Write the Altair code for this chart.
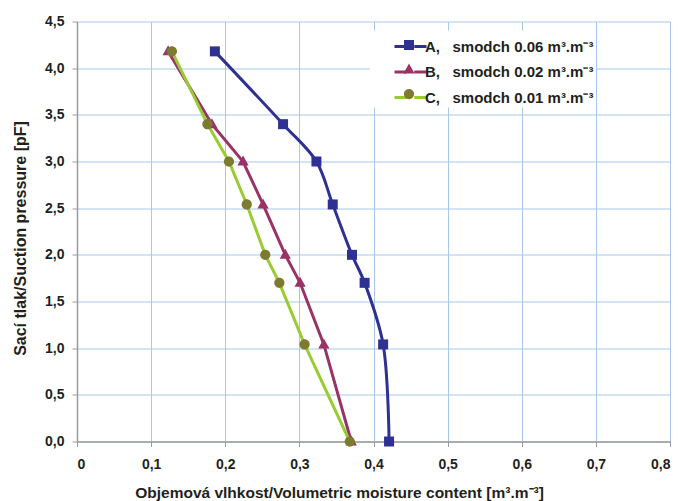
import altair as alt
import pandas as pd

# ---- data ----
suction_pf = [4.18, 3.40, 3.00, 2.54, 2.00, 1.70, 1.04, 0.00]
moisture_a = [0.186, 0.278, 0.323, 0.345, 0.371, 0.388, 0.413, 0.421]
moisture_b = [0.123, 0.182, 0.224, 0.251, 0.281, 0.301, 0.333, 0.370]
moisture_c = [0.128, 0.176, 0.205, 0.229, 0.254, 0.273, 0.307, 0.368]
series_keys = ["A", "B", "C"]
series_labels = [
    "A,\u00a0\u00a0\u00a0smodch 0.06 m\u00b3.m\u207b\u00b3",
    "B,\u00a0\u00a0\u00a0smodch 0.02 m\u00b3.m\u207b\u00b3",
    "C,\u00a0\u00a0\u00a0smodch 0.01 m\u00b3.m\u207b\u00b3",
]
line_colors = ["#2E3192", "#993366", "#99CC33"]
marker_colors = ["#2E3192", "#993366", "#7D7B30"]
x_ticks = [0, 0.1, 0.2, 0.3, 0.4, 0.5, 0.6, 0.7, 0.8]
y_ticks = [0, 0.5, 1.0, 1.5, 2.0, 2.5, 3.0, 3.5, 4.0, 4.5]

rows = []
for key, label, vals in zip(series_keys, series_labels, [moisture_a, moisture_b, moisture_c]):
    for i, (xv, yv) in enumerate(zip(vals, suction_pf)):
        rows.append({"key": key, "series": label, "grp": label, "x": xv, "y": yv, "idx": i})
df = pd.DataFrame(rows)

# marker shapes (unit box -1..1, drawn at size 625 -> 25 px box)
shape_paths = [
    "M-0.4,-0.4H0.4V0.4H-0.4Z",
    "M0,-0.48L0.45,0.32H-0.45Z",
    "M-0.41,0A0.41,0.41 0 1,0 0.41,0A0.41,0.41 0 1,0 -0.41,0Z",
]
line_symbol = "M-1.28,0H-0.3M0.3,0H1.28"

FONT = "Liberation Sans"
TXT = "#231F20"
GRID = "#A6C8EA"

legend_common = dict(
    orient="none", legendX=293, legendY=9, padding=2, symbolOffset=24.5,
    symbolSize=625, labelOffset=0.5, labelFont=FONT, labelFontSize=15,
    labelFontWeight="bold", rowPadding=3.5, title=None, labelLimit=0,
)
stroke_legend = alt.Legend(symbolType=line_symbol, symbolStrokeWidth=3,
                           fillColor="white", labelColor=TXT, **legend_common)
marker_legend = alt.Legend(symbolStrokeWidth=0, labelColor="transparent",
                           labelExpr="''", **legend_common)

x_axis = alt.Axis(
    values=x_ticks, grid=True, gridColor=GRID, gridWidth=1,
    domainColor="#9A9A9A", domainWidth=1.5, tickColor="#9A9A9A", tickSize=5,
    labelExpr="datum.value == 0 ? '0' : replace(format(datum.value, '.1f'), '.', ',')",
    labelFont=FONT, labelFontSize=14, labelFontWeight="bold", labelColor=TXT,
    labelPadding=11, title="Objemová vlhkost/Volumetric moisture content [m\u00b3.m\u207b\u00b3]",
    titleFont=FONT, titleFontSize=15.5, titleFontWeight="bold", titleColor=TXT,
    titleX=262, titleY=55.5, titleAnchor="middle", titleAlign="center", titleBaseline="alphabetic",
)
y_axis = alt.Axis(
    values=y_ticks, grid=True, gridColor=GRID, gridWidth=1,
    domainColor="#9A9A9A", domainWidth=1.5, tickColor="#9A9A9A", tickSize=5,
    labelExpr="replace(format(datum.value, '.1f'), '.', ',')",
    labelFont=FONT, labelFontSize=14, labelFontWeight="bold", labelColor=TXT,
    labelPadding=8, title="Sací tlak/Suction pressure [pF]",
    titleFont=FONT, titleFontSize=16, titleFontWeight="bold", titleColor=TXT,
    titleX=-57, titleY=216.5, titleAngle=-90, titleAlign="center", titleBaseline="middle",
)

x_enc = alt.X("x:Q", scale=alt.Scale(domain=[0, 0.8], nice=False, zero=False), axis=x_axis)
y_enc = alt.Y("y:Q", scale=alt.Scale(domain=[0, 4.5], nice=False), axis=y_axis)
stroke_enc = alt.Stroke("series:N", scale=alt.Scale(range=line_colors), legend=stroke_legend)

base = alt.Chart(df)

line_a = base.transform_filter(alt.datum.key == "A").mark_line(
    interpolate="catmull-rom", strokeWidth=3
).encode(x=x_enc, y=y_enc, stroke=stroke_enc, order="idx:Q")

line_bc = base.transform_filter(alt.datum.key != "A").mark_line(
    strokeWidth=3
).encode(x=x_enc, y=y_enc, stroke=stroke_enc, order="idx:Q")

points = base.mark_point(filled=True, opacity=1, size=625, strokeWidth=0).encode(
    x=x_enc, y=y_enc,
    fill=alt.Fill("grp:N", scale=alt.Scale(range=marker_colors), legend=marker_legend),
    shape=alt.Shape("grp:N", scale=alt.Scale(range=shape_paths), legend=marker_legend),
)

chart = (
    alt.layer(line_a, line_bc, points)
    .properties(
        width=593, height=420,
        autosize=alt.AutoSizeParams(type="none"),
        padding={"left": 69, "top": 13.5, "right": 4, "bottom": 60},
        background="white",
    )
    .configure_view(stroke=None)
)

chart.save("out.html", embed_options={"renderer": "svg", "actions": False})
